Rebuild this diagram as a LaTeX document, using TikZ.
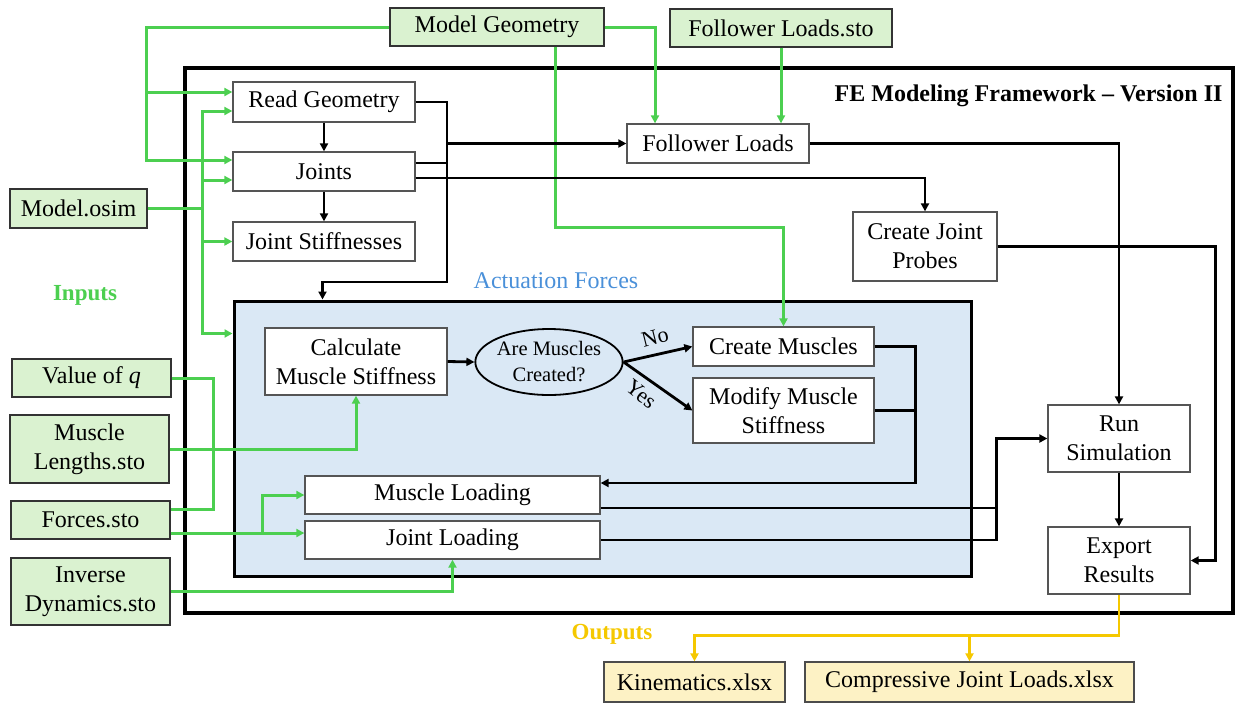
\documentclass[tikz,border=0pt]{standalone}
\usepackage{fontspec}
\setmainfont{Liberation Serif}
\usetikzlibrary{arrows.meta,calc,shapes.geometric}
\definecolor{ingreen}{HTML}{4CCF50}
\definecolor{infill}{HTML}{DAF2D0}
\definecolor{actfill}{HTML}{DAE8F5}
\definecolor{actblue}{HTML}{4A90D9}
\definecolor{outyellow}{HTML}{F5C800}
\definecolor{outfill}{HTML}{FDF2C5}
\definecolor{boxedge}{HTML}{555555}

\begin{document}
\begin{tikzpicture}[x=1pt,y=-1pt,
  font=\fontsize{24}{29}\selectfont,
  stepbox/.style={draw=boxedge, line width=1.3pt, fill=white, inner sep=0pt, align=center},
  inbox/.style={draw=black!80, line width=1.3pt, fill=infill, inner sep=0pt, align=center},
  outbox/.style={draw=black!70, line width=1.3pt, fill=outfill, inner sep=0pt, align=center},
  tip/.style={-{Triangle[length=8pt,width=8pt]}},
  bline/.style={draw=black, line width=2.8pt},
  flow/.style={bline, tip},
  gline/.style={draw=ingreen, line width=3pt},
  garrow/.style={gline, tip},
  yline/.style={draw=outyellow, line width=2.8pt},
  yarrow/.style={yline, tip},
  choice/.style={font=\fontsize{22}{26}\selectfont, inner sep=0pt},
]
\useasboundingbox (0,0) rectangle (1236,702);

% framework frame and actuation block
\draw[line width=4.5pt] (185,68) rectangle (1233,613);
\node[draw=black, line width=3pt, fill=actfill, minimum width=737pt, minimum height=275pt, inner sep=0pt]
  (act) at (602.5,438.5) {};

\node[anchor=east, font=\fontsize{24}{28}\selectfont\bfseries] (title) at (1226,96)
  {FE Modeling Framework – Version II};
\node[text=actblue] (actlbl) at (556,281) {Actuation Forces};
\node[text=ingreen, font=\fontsize{23}{26}\selectfont\bfseries] (inlbl) at (85,295) {Inputs};
\node[text=outyellow, font=\fontsize{23}{26}\selectfont\bfseries] (outlbl) at (612,634) {Outputs};

% process steps
\node[stepbox, minimum width=182pt, minimum height=40pt] (rg) at (324,102) {Read Geometry};
\node[stepbox, minimum width=182pt, minimum height=39pt] (jt) at (324,171.5) {Joints};
\node[stepbox, minimum width=182pt, minimum height=39pt] (js) at (324,241.5) {Joint Stiffnesses};
\node[stepbox, minimum width=182pt, minimum height=39pt] (fl) at (718,143.5) {Follower Loads};
\node[stepbox, minimum width=144pt, minimum height=69pt] (cjp) at (925,246.5) {Create Joint\\Probes};
\node[stepbox, minimum width=182pt, minimum height=67pt] (cms) at (356,361.5) {Calculate\\Muscle Stiffness};
\node[draw=black, line width=1.8pt, fill=actfill, ellipse, inner sep=0pt, minimum width=133pt,
  minimum height=66pt, align=center, font=\fontsize{20.5}{26}\selectfont] (amc) at (549,362)
  {Are Muscles\\Created?};
\node[stepbox, minimum width=181pt, minimum height=39pt] (cm) at (783.5,346.5) {Create Muscles};
\node[stepbox, minimum width=181pt, minimum height=65pt] (mms) at (783.5,410.5) {Modify Muscle\\Stiffness};
\node[stepbox, minimum width=295pt, minimum height=38pt] (ml) at (452.5,495) {Muscle Loading};
\node[stepbox, minimum width=295pt, minimum height=38pt] (jl) at (452.5,540) {Joint Loading};
\node[stepbox, minimum width=142pt, minimum height=67pt] (rs) at (1119,438.5) {Run\\Simulation};
\node[stepbox, minimum width=142pt, minimum height=67pt] (er) at (1119,560.5) {Export\\Results};

% input files
\node[inbox, minimum width=214pt, minimum height=38pt] (mg) at (497,27) {Model Geometry};
\node[inbox, minimum width=222pt, minimum height=38pt] (fls) at (781,28) {Follower Loads.sto};
\node[inbox, minimum width=137pt, minimum height=39pt] (mo) at (78.5,208.5) {Model.osim};
\node[inbox, minimum width=159pt, minimum height=38pt] (vq) at (91.5,378) {Value of \textit{q}};
\node[inbox, minimum width=159pt, minimum height=68pt] (mls) at (89.5,449) {Muscle\\Lengths.sto};
\node[inbox, minimum width=159pt, minimum height=38pt] (fs) at (90.5,520) {Forces.sto};
\node[inbox, minimum width=159pt, minimum height=67pt] (ids) at (90.5,591.5) {Inverse\\Dynamics.sto};

% output files
\node[outbox, minimum width=181pt, minimum height=40pt] (kin) at (694.5,682) {Kinematics.xlsx};
\node[outbox, minimum width=329pt, minimum height=40pt] (cjl) at (969.5,682) {Compressive Joint Loads.xlsx};

% green input connectors
\coordinate (mgbranch) at (147,92);
\coordinate (osimbus) at (202,208.5);
\coordinate (forcebranch) at (262,533);
\draw[garrow] (mg.west) -| ($(jt.west)+(-86,-11.5)$) -- ($(jt.west)+(0,-11.5)$);
\draw[garrow] (mgbranch) -- ($(rg.west)+(0,-10)$);
\draw[garrow] ($(mg.south)+(58,0)$) -- (555,227) -| (cm.north);
\draw[garrow] (mg.east) -| ($(fl.north)+(-63,0)$);
\draw[garrow] (fls.south) -- (fls.south |- fl.north);
\draw[gline] (mo.east) -- (osimbus);
\draw[garrow] (osimbus) |- ($(rg.west)+(0,9)$);
\draw[garrow] (osimbus) |- ($(jt.west)+(0,8.5)$);
\draw[garrow] (osimbus) |- (js.west);
\draw[garrow] (osimbus) |- ($(act.north west)+(0,34)$);
\draw[gline] (vq.east) -| ($(fs.east)+(43,-11)$) -- ($(fs.east)+(0,-11)$);
\draw[garrow] (mls.east) -| (cms.south);
\draw[garrow] ($(fs.east)+(0,13)$) -- ($(jl.west)+(0,-7)$);
\draw[garrow] (forcebranch) |- (ml.west);
\draw[garrow] (ids.east) -| (jl.south);

% black process flow
\draw[flow] (rg.south) -- (jt.north);
\draw[flow] (jt.south) -- (js.north);
\draw[flow] (rg.east) -| (447,282) -| ($(act.north west)+(90,0)$);
\draw[flow] (447,143.5) -- (fl.west);
\draw[bline] ($(jt.east)+(0,-8.5)$) -- (447,163);
\draw[flow] ($(jt.east)+(0,6.5)$) -| (cjp.north);
\draw[flow] (fl.east) -| (rs.north);
\draw[flow] (cjp.east) -| ($(er.east)+(25,0)$) -- (er.east);
\draw[flow] (cms.east) -- (amc.west);
\draw[flow] (amc.east) -- (cm.west);
\draw[flow] (amc.east) -- (mms.west);
\node[choice, rotate=14] (nolbl) at (655,337) {No};
\node[choice, rotate=-38] (yeslbl) at (641,394) {Yes};
\draw[flow] (cm.east) -| ($(ml.east)+(315,-12)$) -- ($(ml.east)+(0,-12)$);
\draw[bline] (mms.east) -- ($(mms.east)+(41,0)$);
\draw[bline] ($(ml.east)+(0,13)$) -- ($(ml.east)+(397,13)$);
\draw[flow] (jl.east) -| ($(rs.west)+(-51,0)$) -- (rs.west);
\draw[flow] (rs.south) -- (er.north);

% yellow output connectors
\draw[yarrow] (er.south) |- ($(kin.north)+(0,-26)$) -- (kin.north);
\draw[yarrow] ($(cjl.north)+(0,-26)$) -- (cjl.north);
\end{tikzpicture}
\end{document}
